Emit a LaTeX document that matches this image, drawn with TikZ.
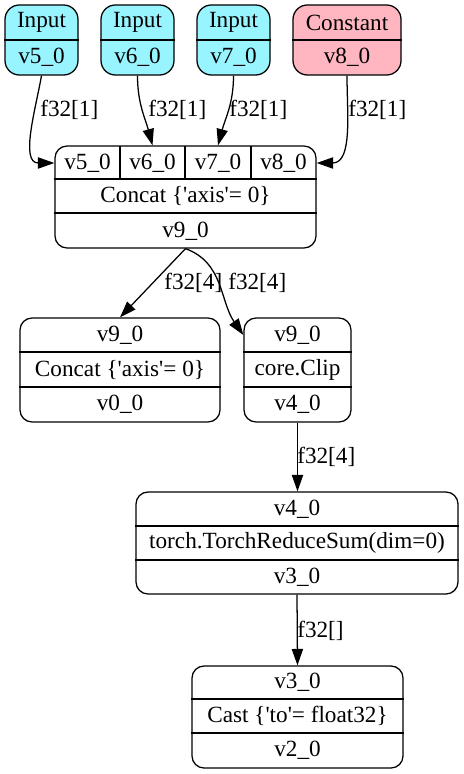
\documentclass[tikz,border=0pt]{standalone}
\usepackage{fontspec}
\setmainfont{Liberation Serif}
\usetikzlibrary{arrows.meta,fit}
\definecolor{inputcol}{HTML}{98F5FF}
\definecolor{constcol}{HTML}{FFB6C1}
\tikzset{
  box/.style={draw, rounded corners=0.3cm, inner sep=0pt, line width=0.9pt},
  txt/.style={font=\fontsize{16.5}{19}\selectfont, inner sep=0pt},
  lbl/.style={txt, anchor=west},
  arr/.style={-{Triangle[length=0.41cm,width=0.28cm]}, line width=0.9pt},
}

\begin{document}
\begin{tikzpicture}[x=0.025cm,y=-0.025cm]
				\useasboundingbox (0,0) rectangle (463,774);
				% Eingaenge
				\node[box,fill=inputcol,rounded corners=0.36cm,fit={(5,5) (78,75)}] (in5) {};
				\node[box,fill=inputcol,rounded corners=0.36cm,fit={(101,5) (174,75)}] (in6) {};
				\node[box,fill=inputcol,rounded corners=0.36cm,fit={(197,5) (270,75)}] (in7) {};
				\node[box,fill=constcol,rounded corners=0.36cm,fit={(293,5) (401,75)}] (in8) {};
				\draw[line width=0.9pt] (in5.west |- 0,40) -- (in5.east |- 0,40);
				\draw[line width=0.9pt] (in6.west |- 0,40) -- (in6.east |- 0,40);
				\draw[line width=0.9pt] (in7.west |- 0,40) -- (in7.east |- 0,40);
				\draw[line width=0.9pt] (in8.west |- 0,40) -- (in8.east |- 0,40);
				\node[txt] (in5a) at (41.5,22.5) {Input};
				\node[txt] (in5b) at (41.5,57.5) {v5\_0};
				\node[txt] (in6a) at (137.5,22.5) {Input};
				\node[txt] (in6b) at (137.5,57.5) {v6\_0};
				\node[txt] (in7a) at (233.5,22.5) {Input};
				\node[txt] (in7b) at (233.5,57.5) {v7\_0};
				\node[txt] (in8a) at (347,22.5) {Constant};
				\node[txt] (in8b) at (347,57.5) {v8\_0};
				% Concat
				\node[box,fit={(55,146) (316,248)}] (concat) {};
				\draw[line width=0.9pt] (concat.west |- 0,179) -- (concat.east |- 0,179);
				\draw[line width=0.9pt] (concat.west |- 0,213) -- (concat.east |- 0,213);
				\draw[line width=0.9pt] (120,146) -- (120,179);
				\draw[line width=0.9pt] (185,146) -- (185,179);
				\draw[line width=0.9pt] (251,146) -- (251,179);
				\node[txt] (cell5) at (87.5,163) {v5\_0};
				\node[txt] (cell6) at (152.5,163) {v6\_0};
				\node[txt] (cell7) at (218,163) {v7\_0};
				\node[txt] (cell8) at (283.5,163) {v8\_0};
				\node[txt] (concatop) at (185.5,196) {Concat \{\textquotesingle axis\textquotesingle= 0\}};
				\node[txt] (concatout) at (185.5,231) {v9\_0};
				% zweite Ebene
				\node[box,fit={(20,318) (220,422)}] (c1) {};
				\draw[line width=0.9pt] (c1.west |- 0,352) -- (c1.east |- 0,352);
				\draw[line width=0.9pt] (c1.west |- 0,387) -- (c1.east |- 0,387);
				\node[txt] (c1a) at (120,335) {v9\_0};
				\node[txt] (c1b) at (120,369.5) {Concat \{\textquotesingle axis\textquotesingle= 0\}};
				\node[txt] (c1c) at (120,404.5) {v0\_0};
				\node[box,fit={(244,318) (351,422)}] (c2) {};
				\draw[line width=0.9pt] (c2.west |- 0,352) -- (c2.east |- 0,352);
				\draw[line width=0.9pt] (c2.west |- 0,387) -- (c2.east |- 0,387);
				\node[txt] (c2a) at (297.5,335) {v9\_0};
				\node[txt] (c2b) at (297.5,369.5) {core.Clip};
				\node[txt] (c2c) at (297.5,404.5) {v4\_0};
				% ReduceSum
				\node[box,fit={(136,492) (458,594)}] (torch) {};
				\draw[line width=0.9pt] (torch.west |- 0,526) -- (torch.east |- 0,526);
				\draw[line width=0.9pt] (torch.west |- 0,560) -- (torch.east |- 0,560);
				\node[txt] (torcha) at (297,509) {v4\_0};
				\node[txt] (torchb) at (297,543) {torch.TorchReduceSum(dim=0)};
				\node[txt] (torchc) at (297,577) {v3\_0};
				% Cast
				\node[box,fit={(192,666) (403,768)}] (cast) {};
				\draw[line width=0.9pt] (cast.west |- 0,699) -- (cast.east |- 0,699);
				\draw[line width=0.9pt] (cast.west |- 0,733) -- (cast.east |- 0,733);
				\node[txt] (casta) at (297.5,682.5) {v3\_0};
				\node[txt] (castb) at (297.5,716) {Cast \{\textquotesingle to\textquotesingle= float32\}};
				\node[txt] (castc) at (297.5,750.5) {v2\_0};
				% Kanten
				\draw[arr] (in5.south) to[out=-100,in=180] (concat.west |- cell5);
				\draw[arr] (in6.south) to[out=-90,in=105] (cell6 |- concat.north);
				\draw[arr] (in7.south) to[out=-90,in=75] (cell7 |- concat.north);
				\draw[arr] (in8.south) to[out=-90,in=0] (concat.east |- cell8);
				\draw[arr] (concat.south) -- (c1.north);
				\draw[arr] (concat.south) to[out=-20,in=125] (c2.west |- c2a);
				\draw[arr] (c2.south) -- (c2.south |- torch.north);
				\draw[arr] (torch.south) -- (cast.north);
				\node[lbl] (l5) at (40,110) {f32[1]};
				\node[lbl] (l6) at (148,110) {f32[1]};
				\node[lbl] (l7) at (229,110) {f32[1]};
				\node[lbl] (l8) at (348,110) {f32[1]};
				\node[lbl] (l9) at (164,283) {f32[4]};
				\node[lbl] (l10) at (228,283) {f32[4]};
				\node[lbl] (l11) at (297,457) {f32[4]};
				\node[lbl] (l12) at (297,631) {f32[]};
			\end{tikzpicture}
\end{document}
